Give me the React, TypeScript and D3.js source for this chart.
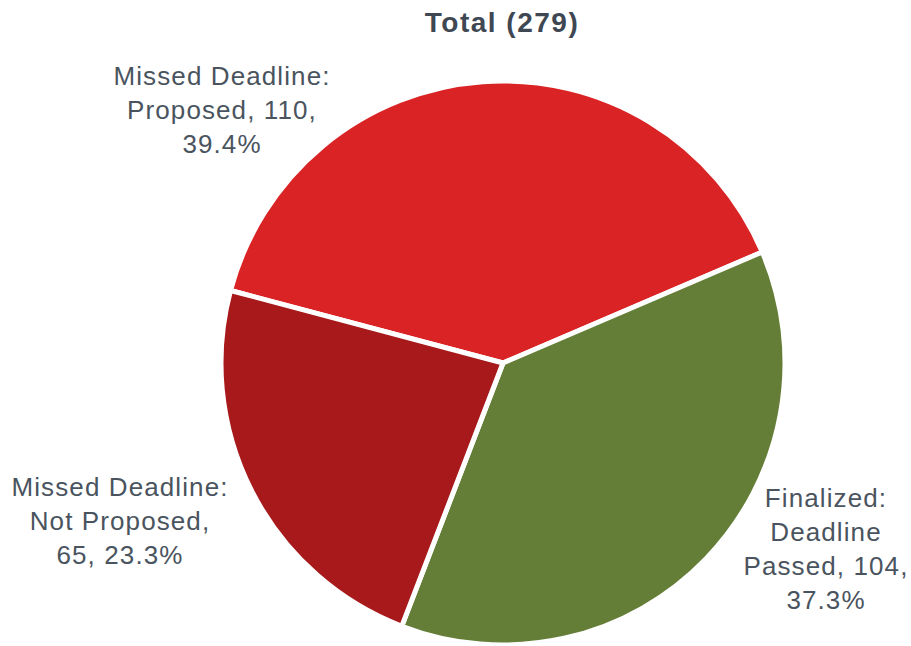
import React from "react";
import * as d3 from "d3";

const categories = [
  "Missed Deadline: Proposed",
  "Finalized: Deadline Passed",
  "Missed Deadline: Not Proposed",
];
const values = [110, 104, 65];
const percents = ["39.4%", "37.3%", "23.3%"];
const labelLines = [
  ["Missed Deadline:", "Proposed, 110,", "39.4%"],
  ["Finalized:", "Deadline", "Passed, 104,", "37.3%"],
  ["Missed Deadline:", "Not Proposed,", "65, 23.3%"],
];
const title = "Total (279)";

const colors = ["#da2325", "#647e37", "#a7191b"];
// label anchor (center x, first line center y)
const labelPos = [
  [222, 76],
  [826, 498],
  [120, 487],
];

const W = 911;
const H = 646;
const cx = 503;
const cy = 363;
const R = 282;
const startDeg = 284.9;

export default function App() {
  const pie = d3
    .pie<number>()
    .sort(null)
    .value((d) => d)
    .startAngle((startDeg * Math.PI) / 180)
    .endAngle((startDeg * Math.PI) / 180 + 2 * Math.PI);
  const arcs = pie(values);
  const arc = d3.arc<d3.PieArcDatum<number>>().innerRadius(0).outerRadius(R);
  const font = "'Liberation Sans', Arial, Helvetica, sans-serif";
  const lh = 34;
  return (
    <svg
      width={W}
      height={H}
      style={{ position: "absolute", left: 0, top: 0, background: "#fff" }}
    >
      <text
        x={502}
        y={22}
        textAnchor="middle"
        dominantBaseline="central"
        fontFamily={font}
        fontWeight="bold"
        fontSize={28}
        letterSpacing={1.5}
        fill="#3e4752"
      >
        {title}
      </text>
      <g transform={`translate(${cx},${cy})`}>
        {arcs.map((a, i) => (
          <path
            key={categories[i]}
            d={arc(a) || ""}
            fill={colors[i]}
            stroke="#fff"
            strokeWidth={5}
            strokeLinejoin="round"
          />
        ))}
      </g>
      {labelLines.map((lines, i) => (
        <text
          key={"l" + i}
          textAnchor="middle"
          fontFamily={font}
          fontSize={26}
          letterSpacing={1.1}
          fill="#4a545e"
        >
          {lines.map((ln, j) => (
            <tspan
              key={j}
              x={labelPos[i][0]}
              y={labelPos[i][1] + j * lh}
              dominantBaseline="central"
            >
              {ln}
            </tspan>
          ))}
        </text>
      ))}
    </svg>
  );
}
